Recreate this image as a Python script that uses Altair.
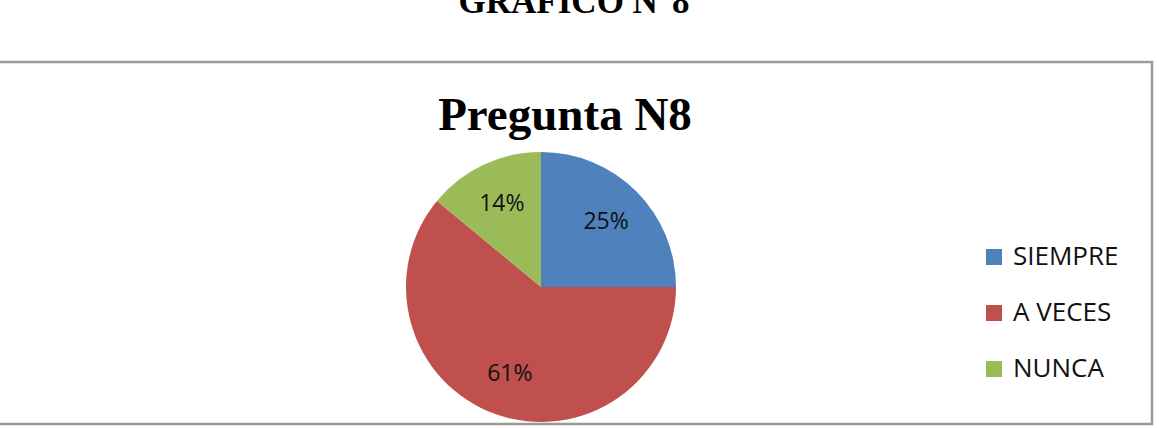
import altair as alt
import pandas as pd

# ---- data ----
categories = ["SIEMPRE", "A VECES", "NUNCA"]
percent = [25, 61, 14]
colors = ["#4F81BD", "#C0504D", "#9BBB59"]
chart_title = "Pregunta N8"
page_heading = "GRAFICO N°8"

df = pd.DataFrame({
    "categoria": categories,
    "porcentaje": percent,
    "orden": list(range(len(categories))),
})
df["etiqueta"] = [f"{p}%" for p in percent]

one = pd.DataFrame({"heading": [page_heading], "title": [chart_title]})

W, H = 1159, 428
CX, CY, R = 541, 287, 135

color_scale = alt.Scale(domain=categories, range=colors)

frame = alt.Chart(one).mark_rect(
    fill="white", stroke="#9a9a9a", strokeWidth=2.5
).encode(
    x=alt.value(-5), x2=alt.value(1152), y=alt.value(62), y2=alt.value(424)
)

heading = alt.Chart(one).mark_text(
    font="Liberation Serif", fontWeight="bold", fontSize=35,
    align="center", baseline="alphabetic", color="#000000"
).encode(text="heading:N", x=alt.value(574), y=alt.value(13))

title = alt.Chart(one).mark_text(
    font="Liberation Serif", fontWeight="bold", fontSize=47,
    align="center", baseline="alphabetic", color="#000000"
).encode(text="title:N", x=alt.value(565), y=alt.value(130))

pie = alt.Chart(df).mark_arc(radius=R).encode(
    theta=alt.Theta("porcentaje:Q", stack=True),
    color=alt.Color(
        "categoria:N", scale=color_scale, sort=categories, title=None,
        legend=alt.Legend(
            orient="none", legendX=981, legendY=244, padding=0,
            symbolType="square", symbolSize=256, symbolStrokeWidth=0,
            labelFont="Open Sans", labelFontSize=26, labelColor="#111111",
            labelOffset=6, rowPadding=30, labelLimit=300,
        ),
    ),
    order=alt.Order("orden:Q"),
    x=alt.value(CX), y=alt.value(CY),
)

labels = alt.Chart(df).mark_text(
    radius=92, font="Open Sans", fontSize=23, color="#111111",
    align="center", baseline="middle"
).encode(
    theta=alt.Theta("porcentaje:Q", stack=True),
    order=alt.Order("orden:Q"),
    text="etiqueta:N",
    x=alt.value(CX), y=alt.value(CY),
)

chart = alt.layer(frame, heading, title, pie, labels).properties(
    width=W, height=H, padding=0,
    autosize=alt.AutoSizeParams(type="none"),
    background="white",
).configure_view(stroke="transparent")

chart.save("out.html", embed_options={"renderer": "svg", "actions": False})
